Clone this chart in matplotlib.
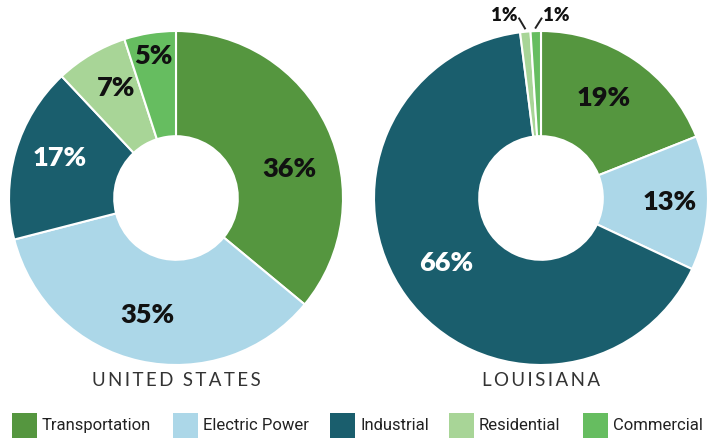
import numpy as np
import matplotlib.pyplot as plt
from matplotlib.patches import Rectangle

sectors = ['Transportation', 'Electric Power', 'Industrial', 'Residential', 'Commercial']
us_share = [36, 35, 17, 7, 5]
la_share = [19, 13, 66, 1, 1]
regions = ['UNITED STATES', 'LOUISIANA']
colors = ['#55963f', '#acd7e8', '#1a5e6d', '#a8d597', '#66bd60']

W, H = 707, 441
fig = plt.figure(figsize=(W / 100, H / 100), dpi=100)
lab_font = ['Lato', 'DejaVu Sans']


def donut(cx, cy, r, vals, lab_pos, title):
    ax = fig.add_axes([(cx - r) / W, (H - cy - r) / H, 2 * r / W, 2 * r / H])
    wedges, _ = ax.pie(vals, colors=colors, startangle=90, counterclock=False,
                       radius=1, wedgeprops=dict(width=0.63, edgecolor='white', linewidth=1.5))
    ax.set_xlim(-1, 1)
    ax.set_ylim(-1, 1)
    ax.set_aspect('equal')
    ax.axis('off')
    for w, v, (lr, shift) in zip(wedges, vals, lab_pos):
        ang = np.deg2rad((w.theta1 + w.theta2) / 2)
        if lr > 1:
            # small slices: label outside with leader line, shift gives the side
            x0, y0 = 1.02 * np.cos(ang), 1.02 * np.sin(ang)
            x1, y1 = x0 + shift * 0.035, 1.075
            ax.plot([x0, x1], [y0, y1], color='#222222', lw=1.4, clip_on=False)
            ax.text(x1 + shift * 0.008, 1.095, f'{v}%', ha='right' if shift < 0 else 'left',
                    va='center', fontsize=13.5, fontweight='heavy', family=lab_font, color='#111111')
        else:
            ang = ang + np.deg2rad(shift)
            tc = 'white' if w.get_facecolor()[0] < 0.2 else '#111111'
            ax.text(lr * np.cos(ang), lr * np.sin(ang), f'{v}%', ha='center', va='center',
                    fontsize=19.5, fontweight='heavy', family=lab_font, color=tc)
    fig.text(cx / W, 1 - 381 / H, '\u2009'.join(title).replace('\u2009 \u2009', '\u2002'),
             ha='center', va='center', fontsize=13.5, fontweight='normal', color='#333333',
             family=['Lato', 'DejaVu Sans'])
    return ax


# per-slice label (radius, angle shift); radius > 1 means outside label
us_lab = [(0.70, -11), (0.72, -1), (0.735, -3), (0.75, -2), (0.86, 0)]
la_lab = [(0.71, 2), (0.77, 0), (0.69, -1.5), (1.1, -1), (1.1, 1)]

donut(176, 198, 167, us_share, us_lab, regions[0])
donut(541, 198, 167, la_share, la_lab, regions[1])

# legend, laid out by hand along the bottom
leg_x = [12, 173, 330, 449, 583]
for x, c, name in zip(leg_x, colors, sectors):
    fig.patches.append(Rectangle((x / W, 3 / H), 25 / W, 25 / H, facecolor=c,
                                 edgecolor='none', transform=fig.transFigure))
    fig.text((x + 30) / W, 15.5 / H, name, ha='left', va='center', fontsize=12,
             color='#222222', family=['Roboto', 'DejaVu Sans'])

fig.savefig('out.png', dpi=100)
